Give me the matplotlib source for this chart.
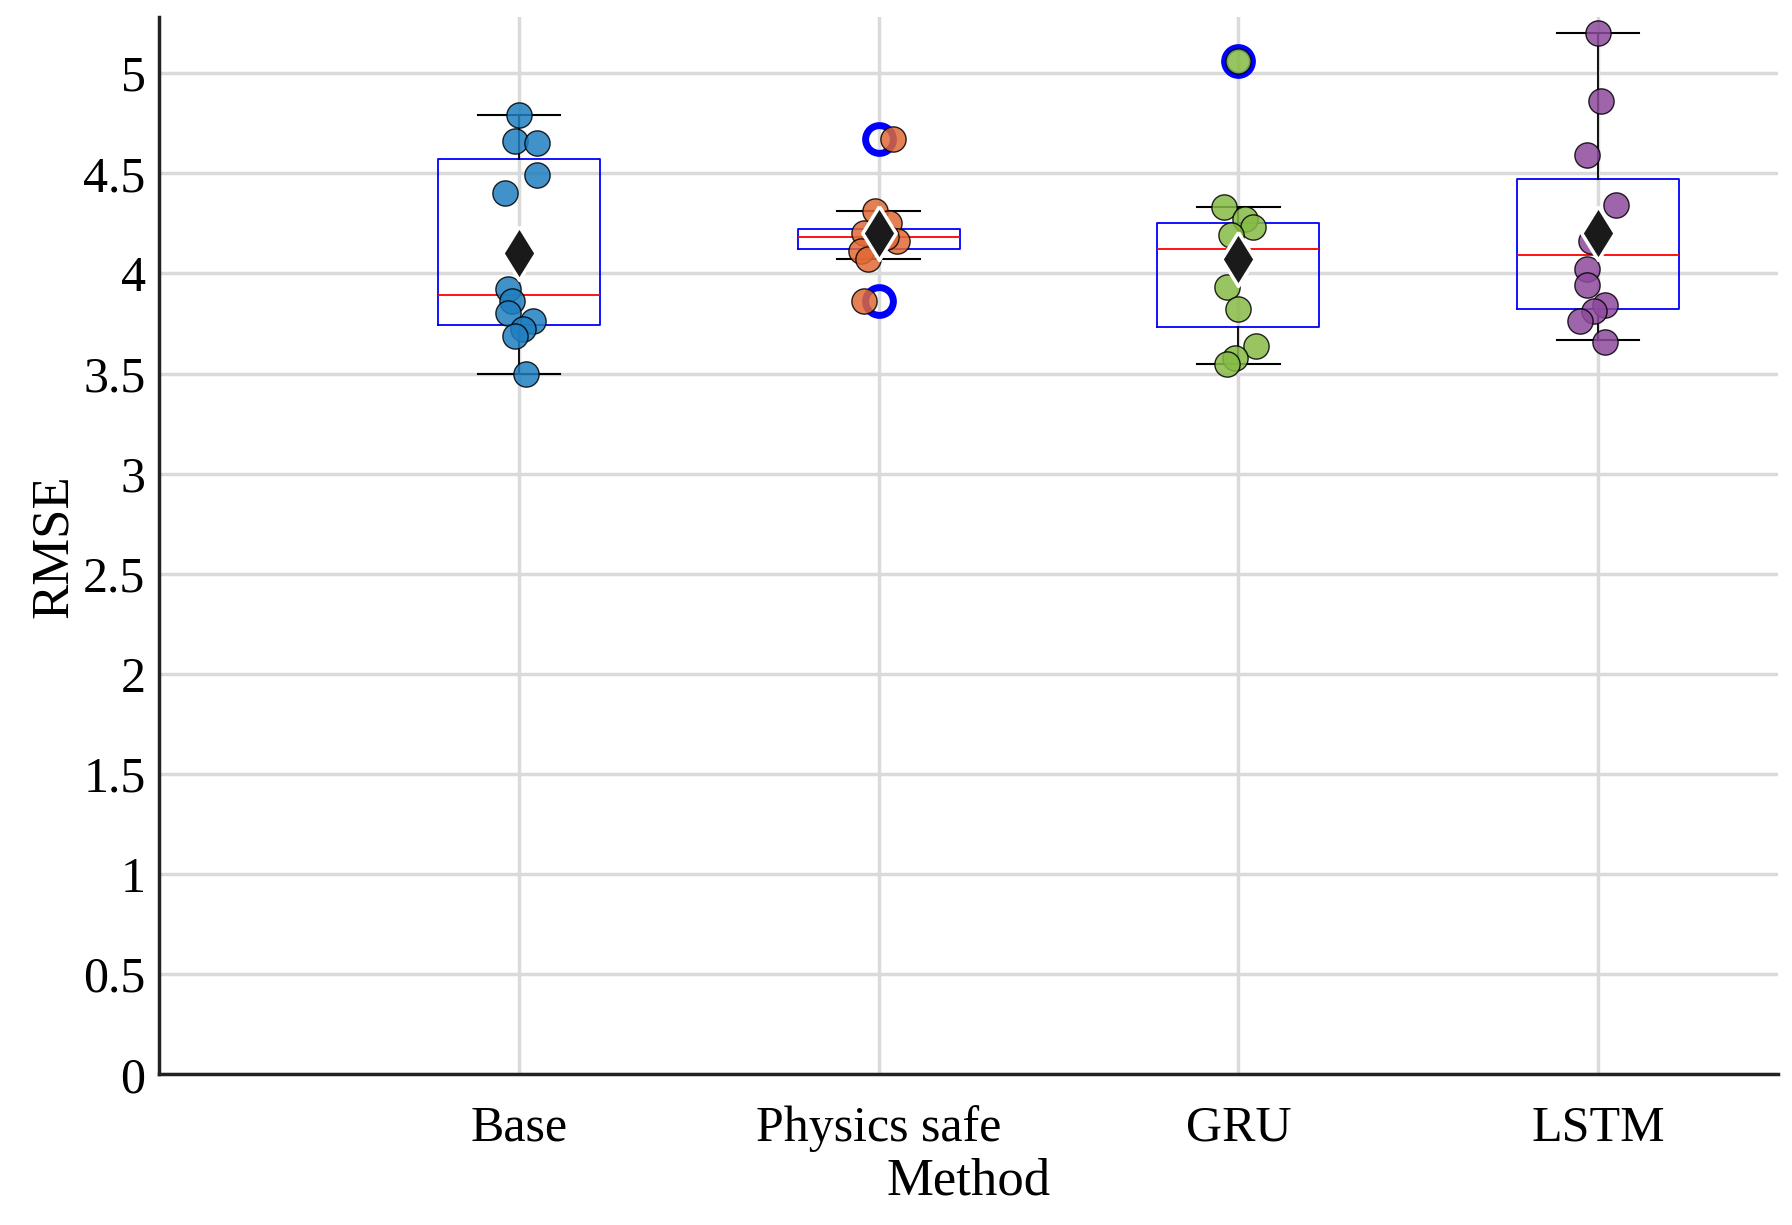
import numpy as np
import matplotlib.pyplot as plt

plt.rcParams['font.family'] = ['Liberation Serif', 'DejaVu Serif']

methods = ["Base", "Physics safe", "GRU", "LSTM"]
colors = ["#1f7fc0", "#e06a35", "#86bb45", "#8e4a9c"]

base = [4.79, 4.66, 4.65, 4.49, 4.40, 3.92, 3.86, 3.80, 3.76, 3.72, 3.69, 3.50]
base_dx = [0.00, -0.01, 0.05, 0.05, -0.04, -0.03, -0.02, -0.03, 0.04, 0.01, -0.01, 0.02]
phys = [4.67, 4.31, 4.25, 4.20, 4.16, 4.11, 4.07, 3.86, 4.18, 4.22]
phys_dx = [0.04, -0.01, 0.03, -0.04, 0.05, -0.05, -0.03, -0.04, 0.02, 0.0]
gru = [5.06, 4.33, 4.27, 4.23, 4.19, 3.93, 3.82, 3.64, 3.58, 3.55]
gru_dx = [0.0, -0.04, 0.02, 0.04, -0.02, -0.03, 0.0, 0.05, -0.01, -0.03]
lstm = [5.20, 4.86, 4.59, 4.34, 4.16, 4.02, 3.94, 3.84, 3.81, 3.76, 3.66]
lstm_dx = [0.0, 0.01, -0.03, 0.05, -0.02, -0.03, -0.03, 0.02, -0.01, -0.05, 0.02]

# box statistics
q1 = [3.74, 4.12, 3.73, 3.82]
med = [3.89, 4.18, 4.12, 4.09]
q3 = [4.57, 4.22, 4.25, 4.47]
wlo = [3.50, 4.07, 3.55, 3.67]
whi = [4.79, 4.31, 4.33, 5.20]
fliers = [[], [4.67, 3.86], [5.06], []]
means = [4.10, 4.20, 4.07, 4.20]

fig, ax = plt.subplots(figsize=(17.92, 12.25), dpi=100)
fig.subplots_adjust(left=0.089, right=0.992, top=0.986, bottom=0.123)

stats = []
for i in range(4):
    stats.append(dict(q1=q1[i], med=med[i], q3=q3[i], whislo=wlo[i], whishi=whi[i], fliers=fliers[i]))
ax.bxp(stats, positions=[1, 2, 3, 4], widths=0.45, showcaps=True,
       boxprops=dict(color="blue", linewidth=1.3),
       medianprops=dict(color="red", linewidth=1.3),
       whiskerprops=dict(color="black", linewidth=1.3),
       capprops=dict(color="black", linewidth=1.5),
       flierprops=dict(marker="o", markerfacecolor="none", markeredgecolor="blue",
                       markeredgewidth=5, markersize=20),
       capwidths=0.23, zorder=2)

groups = [base, phys, gru, lstm]
offsets = [base_dx, phys_dx, gru_dx, lstm_dx]
for i, (vals, dx) in enumerate(zip(groups, offsets)):
    ax.scatter(np.array(dx) + i + 1, vals, s=330, color=colors[i], alpha=0.85,
               edgecolor="black", linewidth=1.0, zorder=3)

tall_diamond = [(0, 1), (0.62, 0), (0, -1), (-0.62, 0), (0, 1)]
ax.scatter([1, 2, 3, 4], means, marker=tall_diamond, s=1500, color="#1a1a1a",
           edgecolor="white", linewidth=2.5, zorder=4)
ax.set_xlim(0, 4.5)
ax.set_ylim(0, 5.28)
ax.set_xticks([1, 2, 3, 4])
ax.set_xticklabels(methods)
ax.set_yticks(np.arange(0, 5.01, 0.5))
ax.set_yticklabels(["0", "0.5", "1", "1.5", "2", "2.5", "3", "3.5", "4", "4.5", "5"])
ax.tick_params(labelsize=36, length=0, pad=10)
ax.tick_params(axis="x", pad=22)
ax.set_xlabel("Method", fontsize=38, labelpad=4)
ax.set_ylabel("RMSE", fontsize=38, labelpad=4)
ax.grid(True, color="#dadada", linewidth=2.5, zorder=0)
ax.set_axisbelow(True)
for s in ["top", "right"]:
    ax.spines[s].set_visible(False)
for s in ["left", "bottom"]:
    ax.spines[s].set_linewidth(2.5)
    ax.spines[s].set_color("#222222")

fig.savefig("out.png")
